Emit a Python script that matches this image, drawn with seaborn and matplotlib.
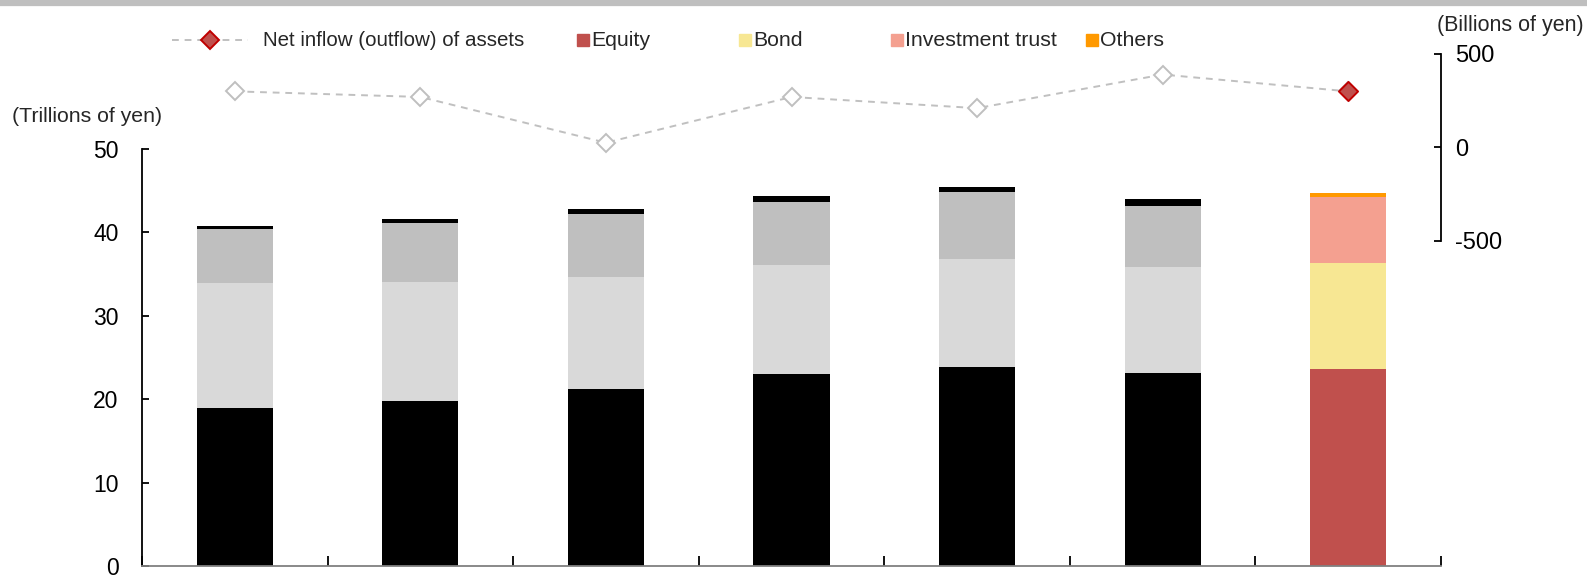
import matplotlib
matplotlib.use("Agg")
import matplotlib.pyplot as plt
from matplotlib.lines import Line2D
import numpy as np
import pandas as pd
import seaborn as sns

# Household asset holdings (trillions of yen) and net inflow (billions of yen)
periods = ["P1", "P2", "P3", "P4", "P5", "P6", "P7"]
equity = [18.9, 19.8, 21.2, 23.0, 23.9, 23.2, 23.6]
bond = [15.0, 14.3, 13.4, 13.1, 12.9, 12.6, 12.7]
inv_trust = [6.5, 7.0, 7.6, 7.6, 8.1, 7.4, 7.9]
others = [0.4, 0.5, 0.6, 0.7, 0.5, 0.8, 0.5]
net_inflow = [300, 270, 25, 270, 210, 390, 300]

LEGEND_ITEMS = ["Equity", "Bond", "Investment trust", "Others"]
COLORS_HI = {"Equity": "#c0504d", "Bond": "#f7e793",
             "Investment trust": "#f4a090", "Others": "#ff9900"}
COLORS_GRAY = {"Equity": "#000000", "Bond": "#d9d9d9",
               "Investment trust": "#bfbfbf", "Others": "#000000"}

sns.set_style("white")
plt.rcParams["font.family"] = ["Liberation Sans", "DejaVu Sans"]

W, H = 1587, 577
fig = plt.figure(figsize=(W / 100, H / 100), dpi=100)

# axes box in pixels: left spine x=142, right x=1441, bottom y=566, top y=54
ax = fig.add_axes([142 / W, (H - 566) / H, (1441 - 142) / W, (566 - 54) / H])

df = pd.DataFrame({"period": periods, "Equity": equity, "Bond": bond,
                   "Investment trust": inv_trust, "Others": others})
# cumulative tops, drawn from the top layer down so lower layers overwrite
layers = ["Equity", "Bond", "Investment trust", "Others"]
cum = df[layers].cumsum(axis=1)
for layer in reversed(layers):
    pal = {p: (COLORS_HI[layer] if i == len(periods) - 1 else COLORS_GRAY[layer])
           for i, p in enumerate(periods)}
    d = pd.DataFrame({"period": periods, "top": cum[layer].values})
    sns.barplot(data=d, x="period", y="top", hue="period", palette=pal,
                order=periods, width=0.41, saturation=1, legend=False,
                linewidth=0, ax=ax)

top_val = 50 * (566 - 54) / (566 - 149)
ax.set_ylim(0, top_val)
ax.set_xlim(-0.5, len(periods) - 0.5)
ax.set_yticks([0, 10, 20, 30, 40, 50])
ax.set_xticks(np.arange(-0.5, len(periods)))
ax.set_xticklabels([])
ax.set_xlabel("")
ax.set_ylabel("")
ax.spines["left"].set_bounds(0, 50)
ax.spines["top"].set_visible(False)
ax.spines["right"].set_visible(False)
ax.spines["left"].set_color("black")
ax.spines["bottom"].set_color("#808080")
ax.spines["left"].set_linewidth(1.3)
ax.spines["bottom"].set_linewidth(1.3)
ax.tick_params(axis="y", direction="in", length=5, width=1.3, pad=17,
               labelsize=16.5, left=True, colors="black")
ax.tick_params(axis="x", direction="in", length=7, width=1.3, bottom=True,
               color="black")

# right axis for net inflow
ax2 = ax.twinx()
bottom_val = -(566 - 147.3) / 0.1868
ax2.set_ylim(bottom_val, 500 + (147.3 - 54 - 500 * 0.1868) / 0.1868)
ax2.set_yticks([-500, 0, 500])
ax2.set_yticklabels(["-500", "0", "500"])
for s in ["left", "top", "bottom"]:
    ax2.spines[s].set_visible(False)
ax2.spines["right"].set_bounds(-500, 500)
ax2.spines["right"].set_color("black")
ax2.spines["right"].set_linewidth(1.3)
ax2.tick_params(axis="y", direction="in", length=5, width=1.3, pad=10,
                labelsize=17, right=True, colors="black")
ax2.grid(False)
ax.grid(False)

ld = pd.DataFrame({"x": np.arange(len(periods)), "flow": net_inflow})
sns.lineplot(data=ld, x="x", y="flow", ax=ax2, color="#c0c0c0",
             linestyle=(0, (3.5, 3)), linewidth=1.4, marker="D", markersize=9,
             markerfacecolor="white", markeredgecolor="#bfbfbf",
             markeredgewidth=1.4)
sns.scatterplot(data=ld.iloc[[-1]], x="x", y="flow", ax=ax2, marker="D",
                s=95, color="#c0504d", edgecolor="#c00000", linewidth=1.4,
                zorder=5)
ax2.set_xlabel("")
ax2.set_ylabel("")
ax2.set_xlim(-0.5, len(periods) - 0.5)

# unit labels
fig.text(12 / W, 1 - 116 / H, "(Trillions of yen)", fontsize=15.3,
         ha="left", va="center")
fig.text(1584 / W, 1 - 25 / H, "(Billions of yen)", fontsize=15.5,
         ha="right", va="center")

# top border band
fig.add_artist(Line2D([0, 1], [1 - 2.5 / H, 1 - 2.5 / H], color="#bfbfbf",
                      linewidth=4.5, transform=fig.transFigure))

# legend (manual placement to match original spacing)
ly = 1 - 40 / H
fig.add_artist(Line2D([172 / W, 248 / W], [ly, ly], color="#c0c0c0",
                      linestyle=(0, (3.5, 3)), linewidth=1.4,
                      transform=fig.transFigure))
fig.add_artist(Line2D([210 / W], [ly], marker="D", markersize=9,
                      markerfacecolor="#c0504d", markeredgecolor="#c00000",
                      markeredgewidth=1.4, linestyle="none",
                      transform=fig.transFigure))
fig.text(263 / W, ly, "Net inflow (outflow) of assets", fontsize=14.8,
         ha="left", va="center")
square_x = [583, 745, 897, 1092]
for label, sx in zip(LEGEND_ITEMS, square_x):
    fig.add_artist(Line2D([sx / W], [ly], marker="s", markersize=9,
                          color=COLORS_HI[label], linestyle="none",
                          transform=fig.transFigure))
    fig.text((sx + 8) / W, ly, label, fontsize=15.3, ha="left", va="center")

fig.savefig("out.png", dpi=100)
